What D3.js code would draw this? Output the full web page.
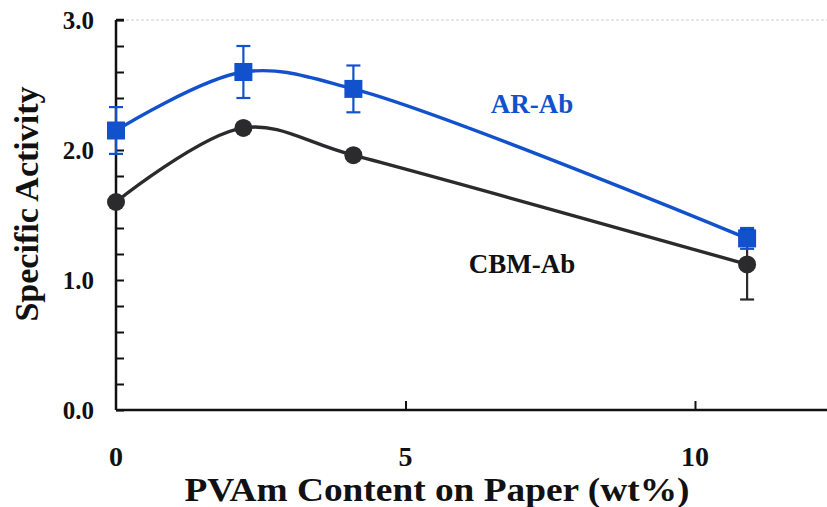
<!DOCTYPE html>
<html>
<head>
<meta charset="utf-8">
<script src="https://cdn.jsdelivr.net/npm/d3@7"></script>
<style>
  body { margin: 0; background: #fff; }
  text { font-family: "Liberation Serif", "Times New Roman", serif; font-weight: bold; }
</style>
</head>
<body>
<svg width="827" height="507"></svg>
<script>
// data
var xVals = [0, 2.2, 4.1, 10.9];
var arAb = [2.15, 2.6, 2.47, 1.32];
var arErr = [0.18, 0.2, 0.18, 0.08];
var cbmAb = [1.6, 2.17, 1.96, 1.12];
var cbmErr = [0, 0, 0, 0.27];
var xTicks = [0, 5, 10];
var yTicks = [0, 1, 2, 3];

var svg = d3.select("svg");

var x = d3.scaleLinear().domain([0, 12.28]).range([116, 827]);
var y = d3.scaleLinear().domain([0, 3]).range([410, 20]);

// faint dotted top line
svg.append("line")
    .attr("x1", x(0)).attr("x2", 827)
    .attr("y1", y(3)).attr("y2", y(3))
    .attr("stroke", "#ccc").attr("stroke-width", 1)
    .attr("stroke-dasharray", "3,2");

// y axis - ticks inward every 0.2
var yAxis = d3.axisRight(y)
    .tickValues(d3.range(0, 3.01, 0.2))
    .tickSize(8)
    .tickFormat("");
var gy = svg.append("g").attr("transform", "translate(" + x(0) + ",0)").call(yAxis);
gy.select(".domain").attr("stroke", "#111").attr("stroke-width", 2.5).attr("d", "M0," + y(3) + "H8M0," + y(3) + "V" + y(0));
gy.selectAll(".tick line").attr("stroke", "#111").attr("stroke-width", 2);

svg.selectAll("text.ytl")
    .data(yTicks)
    .enter()
    .append("text")
    .attr("class", "ytl")
    .attr("x", 94)
    .attr("y", function (d) { return y(d); })
    .attr("dy", "0.35em")
    .attr("text-anchor", "end")
    .attr("font-size", 25)
    .attr("fill", "#111")
    .text(function (d) { return d.toFixed(1); });

// x axis - ticks inward at 5, 10
var xAxis = d3.axisTop(x).tickValues([5, 10]).tickSize(9).tickFormat("");
var gx = svg.append("g").attr("transform", "translate(0," + y(0) + ")").call(xAxis);
gx.select(".domain").attr("stroke", "#111").attr("stroke-width", 2.5).attr("d", "M" + x(0) + ",0H827");
gx.selectAll(".tick line").attr("stroke", "#111").attr("stroke-width", 2);

svg.selectAll("text.xtl")
    .data(xTicks)
    .enter()
    .append("text")
    .attr("class", "xtl")
    .attr("x", function (d) { return x(d); })
    .attr("y", 466)
    .attr("text-anchor", "middle")
    .attr("font-size", 28)
    .attr("fill", "#111")
    .text(function (d) { return d; });

// axis titles
svg.append("text")
    .attr("x", 437).attr("y", 501)
    .attr("text-anchor", "middle")
    .attr("font-size", 34)
    .attr("textLength", 505)
    .attr("lengthAdjust", "spacingAndGlyphs")
    .attr("fill", "#111")
    .text("PVAm Content on Paper (wt%)");

svg.append("text")
    .attr("transform", "translate(38,204) rotate(-90)")
    .attr("text-anchor", "middle")
    .attr("font-size", 34)
    .attr("fill", "#111")
    .text("Specific Activity");

var line = d3.line()
    .x(function (d) { return x(d[0]); })
    .y(function (d) { return y(d[1]); })
    .curve(d3.curveCatmullRom.alpha(0.5));

function series(vals, errs, color, marker) {
    var pts = xVals.map(function (v, i) { return [v, vals[i], errs[i]]; });
    var g = svg.append("g");
    g.append("path")
        .datum(pts)
        .attr("d", line)
        .attr("fill", "none")
        .attr("stroke", color)
        .attr("stroke-width", 3.4);
    var eb = g.selectAll("g.err")
        .data(pts.filter(function (d) { return d[2] > 0; }))
        .enter()
        .append("g");
    eb.append("line")
        .attr("x1", function (d) { return x(d[0]); })
        .attr("x2", function (d) { return x(d[0]); })
        .attr("y1", function (d) { return y(d[1] - d[2]); })
        .attr("y2", function (d) { return y(d[1] + d[2]); })
        .attr("stroke", color).attr("stroke-width", 2.2);
    [-1, 1].forEach(function (s) {
        eb.append("line")
            .attr("x1", function (d) { return x(d[0]) - 7; })
            .attr("x2", function (d) { return x(d[0]) + 7; })
            .attr("y1", function (d) { return y(d[1] + s * d[2]); })
            .attr("y2", function (d) { return y(d[1] + s * d[2]); })
            .attr("stroke", color).attr("stroke-width", 2.2);
    });
    if (marker == "square") {
        g.selectAll("rect")
            .data(pts)
            .enter()
            .append("rect")
            .attr("x", function (d) { return x(d[0]) - 9; })
            .attr("y", function (d) { return y(d[1]) - 9; })
            .attr("width", 18).attr("height", 18)
            .attr("fill", color);
    } else {
        g.selectAll("circle")
            .data(pts)
            .enter()
            .append("circle")
            .attr("cx", function (d) { return x(d[0]); })
            .attr("cy", function (d) { return y(d[1]); })
            .attr("r", 9)
            .attr("fill", color);
    }
}

series(cbmAb, cbmErr, "#2b2b2d", "circle");
series(arAb, arErr, "#1152cc", "square");

svg.append("text")
    .attr("x", 532).attr("y", 113)
    .attr("text-anchor", "middle")
    .attr("font-size", 27)
    .attr("fill", "#1152cc")
    .text("AR-Ab");

svg.append("text")
    .attr("x", 522).attr("y", 273)
    .attr("text-anchor", "middle")
    .attr("font-size", 27)
    .attr("fill", "#111")
    .text("CBM-Ab");
</script>
</body>
</html>
